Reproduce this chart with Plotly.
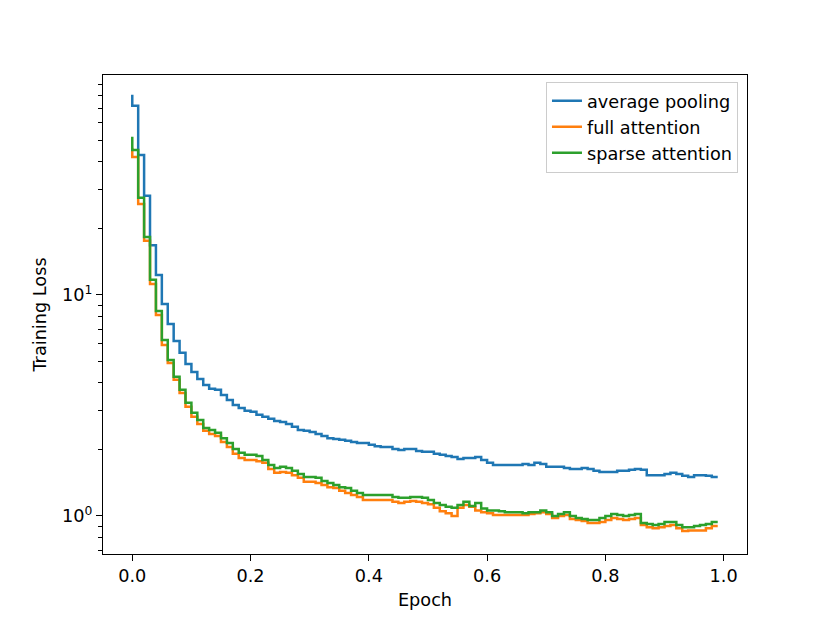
import plotly.graph_objects as go

# epochs sampled every 0.01 (100 logging points)
epoch = [i / 100 for i in range(100)]

avg_pooling = [
    80.4, 71.7, 43.0, 28.1, 16.8, 12.3, 9.11, 7.39, 6.19, 5.47,
    4.87, 4.48, 4.17, 3.91, 3.76, 3.72, 3.53, 3.35, 3.18, 3.08,
    2.99, 2.96, 2.87, 2.81, 2.75, 2.69, 2.66, 2.61, 2.53, 2.45,
    2.43, 2.40, 2.35, 2.30, 2.25, 2.23, 2.21, 2.19, 2.16, 2.14,
    2.14, 2.10, 2.07, 2.05, 2.05, 2.01, 1.99, 2.01, 2.01, 1.97,
    1.95, 1.95, 1.91, 1.89, 1.87, 1.85, 1.81, 1.83, 1.83, 1.85,
    1.79, 1.74, 1.70, 1.70, 1.70, 1.70, 1.70, 1.72, 1.70, 1.74,
    1.72, 1.67, 1.67, 1.67, 1.65, 1.63, 1.63, 1.65, 1.63, 1.60,
    1.58, 1.58, 1.58, 1.60, 1.60, 1.62, 1.63, 1.62, 1.53, 1.53,
    1.53, 1.55, 1.57, 1.55, 1.52, 1.50, 1.53, 1.53, 1.52, 1.50,
]

full_attention = [
    46.3, 42.1, 25.8, 17.6, 11.2, 8.12, 5.94, 4.92, 4.13, 3.60,
    3.12, 2.81, 2.61, 2.43, 2.35, 2.30, 2.16, 2.05, 1.91, 1.83,
    1.79, 1.79, 1.77, 1.74, 1.63, 1.57, 1.58, 1.57, 1.53, 1.49,
    1.43, 1.43, 1.41, 1.38, 1.35, 1.34, 1.30, 1.27, 1.245, 1.22,
    1.18, 1.18, 1.18, 1.18, 1.18, 1.16, 1.145, 1.16, 1.17, 1.16,
    1.145, 1.13, 1.09, 1.05, 1.03, 1.00, 1.09, 1.12, 1.10, 1.06,
    1.04, 1.03, 1.01, 1.01, 1.01, 1.01, 1.01, 1.01, 1.02, 1.03,
    1.04, 1.02, 0.98, 1.00, 1.01, 0.97, 0.96, 0.95, 0.93, 0.93,
    0.94, 0.96, 0.98, 0.97, 0.96, 0.97, 0.98, 0.91, 0.89, 0.88,
    0.89, 0.90, 0.91, 0.88, 0.855, 0.86, 0.86, 0.86, 0.88, 0.90,
]

sparse_attention = [
    51.9, 45.3, 27.5, 18.3, 11.7, 8.47, 6.26, 5.08, 4.26, 3.72,
    3.25, 2.93, 2.72, 2.50, 2.45, 2.38, 2.25, 2.14, 2.01, 1.93,
    1.89, 1.89, 1.87, 1.79, 1.70, 1.65, 1.67, 1.65, 1.60, 1.55,
    1.50, 1.50, 1.49, 1.44, 1.41, 1.38, 1.35, 1.34, 1.30, 1.27,
    1.245, 1.245, 1.245, 1.245, 1.245, 1.22, 1.21, 1.21, 1.22, 1.22,
    1.21, 1.18, 1.145, 1.12, 1.10, 1.09, 1.12, 1.16, 1.11, 1.145,
    1.08, 1.06, 1.06, 1.05, 1.04, 1.04, 1.04, 1.03, 1.04, 1.04,
    1.06, 1.04, 1.00, 1.02, 1.04, 1.00, 0.98, 0.97, 0.96, 0.96,
    0.98, 1.00, 1.02, 1.01, 1.00, 1.01, 1.02, 0.93, 0.92, 0.91,
    0.92, 0.94, 0.94, 0.91, 0.89, 0.89, 0.90, 0.91, 0.92, 0.94,
]

series = [
    ("average pooling", avg_pooling, "#1f77b4"),
    ("full attention", full_attention, "#ff7f0e"),
    ("sparse attention", sparse_attention, "#2ca02c"),
]

x_ticks = [0.0, 0.2, 0.4, 0.6, 0.8, 1.0]
y_major = [1, 10]
y_major_text = ["10<sup>0</sup>", "10<sup>1</sup>"]
y_minor = [0.7, 0.8, 0.9, 2, 3, 4, 5, 6, 7, 8, 9, 20, 30, 40, 50, 60, 70, 80, 90]

fig = go.Figure()
for name, vals, col in series:
    fig.add_trace(go.Scatter(
        x=epoch, y=vals, name=name, mode="lines",
        line=dict(color=col, width=2.5, shape="vh"),
    ))

font = dict(family="DejaVu Sans", size=17.7, color="black")

fig.update_layout(
    width=830, height=623,
    # page body has an 8px margin, so shift the plot box up/left by that much
    margin=dict(l=95, r=91, t=67, b=77),
    paper_bgcolor="white", plot_bgcolor="white",
    font=font,
    showlegend=True,
    legend=dict(
        x=0.986, y=0.986, xanchor="right", yanchor="top",
        bgcolor="rgba(255,255,255,0.8)", bordercolor="#cccccc", borderwidth=1,
        font=font,
    ),
    xaxis=dict(
        range=[-0.0495, 1.0395], tickvals=x_ticks, tickformat=".1f",
        showgrid=False, zeroline=False,
        showline=True, linecolor="black", linewidth=1.3, mirror=True,
        ticks="outside", ticklen=6, tickwidth=1.3, tickcolor="black",
        tickfont=font,
        title=dict(text="Epoch", standoff=8, font=font),
    ),
    yaxis=dict(
        type="log", range=[-0.172, 1.995],
        tickvals=y_major, ticktext=y_major_text,
        showgrid=False, zeroline=False,
        showline=True, linecolor="black", linewidth=1.3, mirror=True,
        ticks="outside", ticklen=6, tickwidth=1.3, tickcolor="black",
        tickfont=font,
        minor=dict(tickvals=y_minor, ticks="outside", ticklen=3.5,
                   tickwidth=1.1, tickcolor="black", showgrid=False),
        title=dict(text="Training Loss", standoff=10, font=font),
    ),
)

fig.write_html("out.html")
